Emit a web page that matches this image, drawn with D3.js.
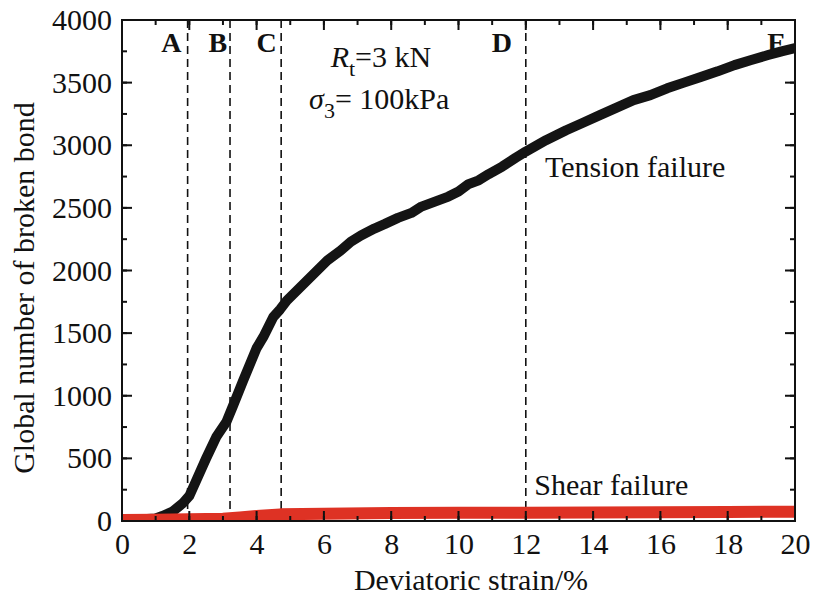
<!DOCTYPE html>
<html>
<head>
<meta charset="utf-8">
<script src="https://cdn.jsdelivr.net/npm/d3@7"></script>
<style>
  html, body { margin: 0; padding: 0; background: #fff; }
  svg { display: block; }
  svg text { font-family: 'Liberation Serif', 'Times New Roman', Times, 'Nimbus Roman', 'DejaVu Serif', serif !important; fill: #111; }
</style>
</head>
<body>
<svg id="chart" width="813" height="600"></svg>
<script>
// ---- data ----
const tensionStrain = [0, 0.5, 1.0, 1.2, 1.5, 1.8, 2.0, 2.2, 2.5, 2.8, 3.1, 3.3, 3.6, 3.8, 4.0, 4.2, 4.5, 4.7, 4.9, 5.2, 5.5, 5.8, 6.1, 6.5, 6.8, 7.1, 7.5, 7.8, 8.2, 8.6, 8.9, 9.3, 9.7, 10.0, 10.3, 10.6, 10.9, 11.3, 11.7, 12.0, 12.6, 13.2, 13.7, 14.2, 14.7, 15.2, 15.7, 16.2, 16.7, 17.2, 17.7, 18.2, 18.7, 19.2, 19.6, 20];
const tensionCount  = [10, 12, 20, 40, 75, 140, 200, 320, 500, 670, 790, 920, 1120, 1250, 1380, 1470, 1630, 1690, 1760, 1840, 1920, 2000, 2080, 2160, 2230, 2280, 2335, 2370, 2420, 2460, 2510, 2550, 2590, 2630, 2690, 2720, 2770, 2830, 2900, 2950, 3040, 3120, 3180, 3240, 3300, 3360, 3400, 3455, 3500, 3545, 3590, 3640, 3680, 3720, 3750, 3775];

const shearStrain = [0, 1, 2, 3, 3.5, 4, 4.7, 6, 8, 10, 12, 14, 16, 18, 20];
const shearCount  = [8, 10, 13, 18, 28, 40, 53, 58, 63, 65, 66, 68, 70, 72, 74];

const stageStrain = [1.95, 3.21, 4.73, 12.0];
const stageLabels = ["A", "B", "C", "D", "E"];
const stageLabelX = [1.47, 2.85, 4.3, 11.29, 19.45];

const xTicks = [0, 2, 4, 6, 8, 10, 12, 14, 16, 18, 20];
const yTicks = [0, 500, 1000, 1500, 2000, 2500, 3000, 3500, 4000];

// ---- layout ----
const SERIF = "'Liberation Serif', 'Times New Roman', Times, 'Nimbus Roman', 'DejaVu Serif', serif";
const svg = d3.select("#chart").attr("font-family", SERIF);
const m = { left: 122, top: 20, right: 18, bottom: 79 };
const W = 813 - m.left - m.right;
const H = 600 - m.top - m.bottom;
const g = svg.append("g").attr("transform", `translate(${m.left},${m.top})`);

const x = d3.scaleLinear().domain([0, 20]).range([0, W]);
const y = d3.scaleLinear().domain([0, 4000]).range([H, 0]);

svg.append("defs").append("clipPath").attr("id", "clip")
  .append("rect").attr("x", 0).attr("y", 0).attr("width", W).attr("height", H);

const FS = 30;

// stage letters
g.selectAll("text.stage").data(stageLabels).enter().append("text")
  .attr("class", "stage")
  .attr("x", (d, i) => x(stageLabelX[i]))
  .attr("y", 32)
  .attr("text-anchor", "middle")
  .attr("font-weight", "bold")
  .attr("font-size", 28)
  .text(d => d);

// dashed lines
g.selectAll("line.stage").data(stageStrain).enter().append("line")
  .attr("x1", d => x(d)).attr("x2", d => x(d))
  .attr("y1", 0).attr("y2", H)
  .attr("stroke", "#111").attr("stroke-width", 1.6)
  .attr("stroke-dasharray", "8,5");

// curves
const plot = g.append("g").attr("clip-path", "url(#clip)");
const line = d3.line().x(d => x(d[0])).y(d => y(d[1]));

plot.append("path")
  .datum(tensionStrain.map((s, i) => [s, tensionCount[i]]))
  .attr("d", line)
  .attr("fill", "none").attr("stroke", "#141414")
  .attr("stroke-width", 10).attr("stroke-linejoin", "round");

plot.append("path")
  .datum(shearStrain.map((s, i) => [s, shearCount[i]]))
  .attr("d", line)
  .attr("fill", "none").attr("stroke", "#de3224")
  .attr("stroke-width", 12).attr("stroke-linejoin", "round");

// annotations
const t1 = g.append("text").attr("x", x(6.2)).attr("y", 47).attr("font-size", FS);
t1.append("tspan").attr("font-style", "italic").text("R");
t1.append("tspan").attr("font-size", 22).attr("dy", 9).text("t");
t1.append("tspan").attr("dy", -9).text("=3 kN");

const t2 = g.append("text").attr("x", x(5.56)).attr("y", 89).attr("font-size", FS);
t2.append("tspan").attr("font-style", "italic").text("σ");
t2.append("tspan").attr("font-size", 22).attr("dy", 9).text("3");
t2.append("tspan").attr("dy", -9).text("= 100kPa");

g.append("text").attr("x", x(12.57)).attr("y", y(2750))
  .attr("font-size", FS).text("Tension failure");
g.append("text").attr("x", x(12.25)).attr("y", y(230) + 3)
  .attr("font-size", FS).text("Shear failure");

// axes
const xMinor = d3.range(0, 21, 1);
const yMinor = d3.range(0, 4001, 250);

function tickLines(sel, vals, len, orient) {
  vals.forEach(v => {
    if (orient === "bottom") sel.append("line").attr("x1", x(v)).attr("x2", x(v)).attr("y1", H).attr("y2", H - len);
    if (orient === "top") sel.append("line").attr("x1", x(v)).attr("x2", x(v)).attr("y1", 0).attr("y2", len);
    if (orient === "left") sel.append("line").attr("y1", y(v)).attr("y2", y(v)).attr("x1", 0).attr("x2", len);
    if (orient === "right") sel.append("line").attr("y1", y(v)).attr("y2", y(v)).attr("x1", W).attr("x2", W - len);
  });
}
const tg = g.append("g").attr("stroke", "#111").attr("stroke-width", 2);
["bottom", "top"].forEach(o => { tickLines(tg, xMinor, 5, o); tickLines(tg, xTicks, 10, o); });
["left", "right"].forEach(o => { tickLines(tg, yMinor, 5, o); tickLines(tg, yTicks, 10, o); });

g.append("rect").attr("x", 0).attr("y", 0).attr("width", W).attr("height", H)
  .attr("fill", "none").attr("stroke", "#111").attr("stroke-width", 2);

// tick labels using axis generators (lines hidden)
const xAxis = g.append("g").attr("transform", `translate(0,${H})`)
  .call(d3.axisBottom(x).tickValues(xTicks).tickSize(0).tickPadding(12).tickFormat(d3.format("d")));
const yAxis = g.append("g")
  .call(d3.axisLeft(y).tickValues(yTicks).tickSize(0).tickPadding(10).tickFormat(d3.format("d")));
[xAxis, yAxis].forEach(a => {
  a.attr("font-family", SERIF).attr("font-size", FS);
  a.select(".domain").remove();
  a.selectAll("text").attr("font-size", FS).attr("fill", "#111");
});

// axis titles
svg.append("text").attr("x", 471).attr("y", 590)
  .attr("text-anchor", "middle").attr("font-size", FS).text("Deviatoric strain/%");
svg.append("text").attr("transform", `translate(34,288) rotate(-90)`)
  .attr("text-anchor", "middle").attr("font-size", FS).text("Global number of broken bond");
</script>
</body>
</html>
